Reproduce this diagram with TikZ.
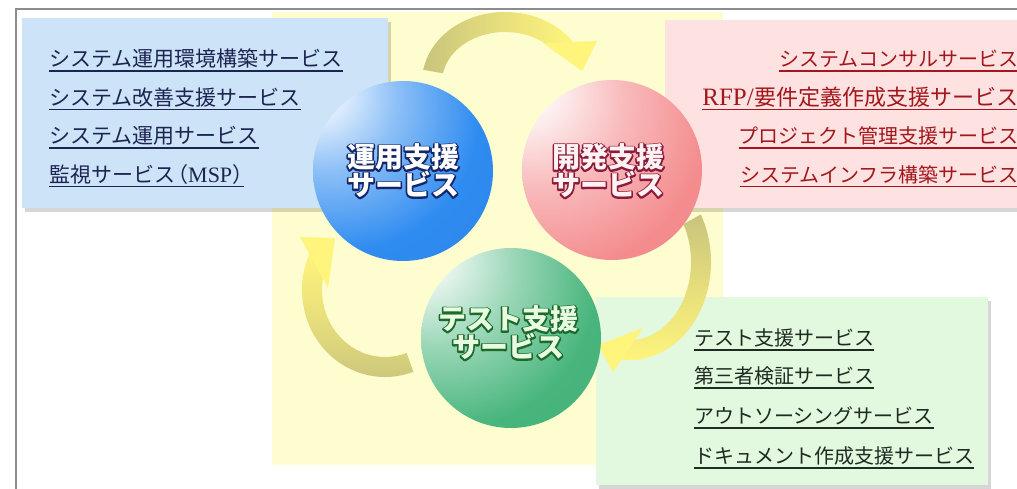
\documentclass[tikz,border=0pt]{standalone}
\usepackage{fontspec}
\newfontfamily\jp{Noto Sans CJK JP}
\newfontfamily\lser{Liberation Serif}
\usetikzlibrary{calc,shadows}
\definecolor{bgyellow}{HTML}{FEFDCF}
\definecolor{framec}{HTML}{8C8C8C}
\definecolor{boxblue}{HTML}{CDE3F7}
\definecolor{boxpink}{HTML}{FDE2E1}
\definecolor{boxgreen}{HTML}{E2F8DF}
\definecolor{bluetxt}{HTML}{1C2452}
\definecolor{pinktxt}{HTML}{A3161C}
\definecolor{greentxt}{HTML}{1E2A22}
\definecolor{arrolive}{HTML}{C8C47C}
\definecolor{arryellow}{HTML}{FFF47C}
\definecolor{arrmid}{HTML}{E6DE7C}
\definecolor{cblue}{HTML}{2E8BF0}
\definecolor{cpink}{HTML}{F48C8E}
\definecolor{cgreen}{HTML}{47B57C}
\definecolor{outblue}{HTML}{14266A}
\definecolor{outpink}{HTML}{8C1A3A}
\definecolor{outgreen}{HTML}{1D6B2C}
\definecolor{fillgreen}{HTML}{E8FCE0}
\definecolor{fillpink}{HTML}{FFF2F2}
\pgfdeclareradialshading{sphblue}{\pgfpoint{-27bp}{25bp}}{color(0bp)=(white); color(4bp)=(white); color(20bp)=(cblue!55!white); color(38bp)=(cblue); color(100bp)=(cblue!88!black)}
\pgfdeclareradialshading{sphpink}{\pgfpoint{-27bp}{25bp}}{color(0bp)=(white); color(5bp)=(white); color(24bp)=(cpink!60!white); color(42bp)=(cpink); color(100bp)=(cpink!92!black)}
\pgfdeclareradialshading{sphgreen}{\pgfpoint{-27bp}{25bp}}{color(0bp)=(white); color(4bp)=(white); color(22bp)=(cgreen!55!white); color(40bp)=(cgreen); color(100bp)=(cgreen!90!black)}
% outlined text: a stroked copy below, the filled text on top
\newcommand\otxt[3]{\leavevmode\rlap{\special{pdf:literal direct 1 Tr 3 w 1 j}\textcolor{#1}{#3}\special{pdf:literal direct 0 Tr 1 w}}\textcolor{#2}{#3}}
\tikzset{
  boxst/.style={draw=none, anchor=south west, inner sep=0,
    drop shadow={shadow xshift=3pt, shadow yshift=-4pt, opacity=0.16, fill=black}},
  sph/.style={circle, minimum size=180pt, inner sep=0, shade},
  ctext/.style={align=center, inner sep=0, font=\jp\bfseries\fontsize{28}{28}\selectfont},
  bl/.style={anchor=base west, inner sep=0, text=bluetxt, font=\jp\fontsize{21}{21}\selectfont},
  pk/.style={anchor=base east, inner sep=0, text=pinktxt, font=\jp\fontsize{20}{20}\selectfont},
  gr/.style={anchor=base west, inner sep=0, text=greentxt, font=\jp\fontsize{20}{20}\selectfont},
  ul/.style={line width=1.6pt}
}
\begin{document}
\begin{tikzpicture}[x=1pt,y=1pt]
\useasboundingbox (0,0) rectangle (1017,489);
\fill[white] (0,0) rectangle (1017,489);
% yellow background
\fill[bgyellow] (272,24) rectangle (723,477);
% frame
\draw[framec, line width=2pt] (16,0) -- (16,480) -- (1017,480);
% boxes
\node[boxst, fill=boxblue, minimum width=366pt, minimum height=190pt] (bluebox) at (22,281) {};
\node[boxst, fill=boxpink, minimum width=370pt, minimum height=188pt] (pinkbox) at (665,281) {};
\node[boxst, fill=boxgreen, minimum width=392pt, minimum height=188pt] (greenbox) at (596,4) {};
% arrows
\coordinate (ca) at (505,407);
\coordinate (cb) at (630,227);
\coordinate (cc) at (385,199);
\shade[left color=arrolive, right color=arryellow, middle color=arrmid]
  ($(ca)+(170:83 and 70)$) arc[start angle=170, end angle=35, x radius=83, y radius=70]
  -- ($(ca)+(35:63 and 50)$) arc[start angle=35, end angle=170, x radius=63, y radius=50] -- cycle;
\fill[arryellow] (543,446) -- (597,448) -- (582,418) -- cycle;
\shade[top color=arrolive, bottom color=arryellow, middle color=arrmid]
  ($(cb)+(29:81 and 98)$) arc[start angle=29, end angle=-97, x radius=81, y radius=98]
  -- ($(cb)+(-97:61 and 78)$) arc[start angle=-97, end angle=29, x radius=61, y radius=78] -- cycle;
\fill[arryellow] (643,161) -- (598,144) -- (613,117) -- cycle;
\shade[top color=arryellow, bottom color=arrolive, middle color=arrmid]
  ($(cc)+(-70:83 and 87)$) arc[start angle=-70, end angle=-205, x radius=83, y radius=87]
  -- ($(cc)+(-205:63 and 67)$) arc[start angle=-205, end angle=-70, x radius=63, y radius=67] -- cycle;
\fill[arryellow] (300,252) -- (335,251) -- (328,201) -- cycle;
% spheres
\node[sph, shading=sphblue] (opsC) at (403,318) {};
\node[sph, shading=sphpink] (devC) at (612,319) {};
\node[sph, shading=sphgreen] (tstC) at (511,151) {};
\node[ctext] (opsT) at (403,318) {\otxt{outblue}{white}{運用支援}\\\otxt{outblue}{white}{サービス}};
\node[ctext] (devT) at (608,318) {\otxt{outpink}{fillpink}{開発支援}\\\otxt{outpink}{fillpink}{サービス}};
\node[ctext] (tstT) at (508,156) {\otxt{outgreen}{fillgreen}{テスト支援}\\\otxt{outgreen}{fillgreen}{サービス}};
% blue list
\node[bl] (b1) at (49,422) {システム運用環境構築サービス};
\node[bl] (b2) at (49,383.5) {システム改善支援サービス};
\node[bl] (b3) at (49,345) {システム運用サービス};
\node[bl] (b4) at (49,306.5) {監視サービス\kern-8pt（{\lser\fontsize{22}{22}\selectfont MSP}）\kern-9pt};
\foreach \n in {b1,b2,b3,b4}
  \draw[ul, bluetxt] ([yshift=-4pt]\n.base west) -- ([yshift=-4pt]\n.base east);
% pink list
\node[pk] (p1) at (1019,422) {システムコンサルサービス};
\node[pk, font=\jp\fontsize{22}{22}\selectfont] (p2) at (1019,383.5) {{\lser\fontsize{25}{25}\selectfont RFP/}\kern1pt 要件定義作成支援サービス};
\node[pk] (p3) at (1019,345) {プロジェクト管理支援サービス};
\node[pk] (p4) at (1019,306.5) {システムインフラ構築サービス};
\foreach \n in {p1,p2,p3,p4}
  \draw[ul, pinktxt] ([yshift=-4pt]\n.base west) -- ([yshift=-4pt]\n.base east);
% green list
\node[gr] (g1) at (694,143) {テスト支援サービス};
\node[gr] (g2) at (694,105) {第三者検証サービス};
\node[gr] (g3) at (694,65) {アウトソーシングサービス};
\node[gr] (g4) at (694,25) {ドキュメント作成支援サービス};
\foreach \n in {g1,g2,g3,g4}
  \draw[ul, greentxt] ([yshift=-4pt]\n.base west) -- ([yshift=-4pt]\n.base east);
\end{tikzpicture}
\end{document}
